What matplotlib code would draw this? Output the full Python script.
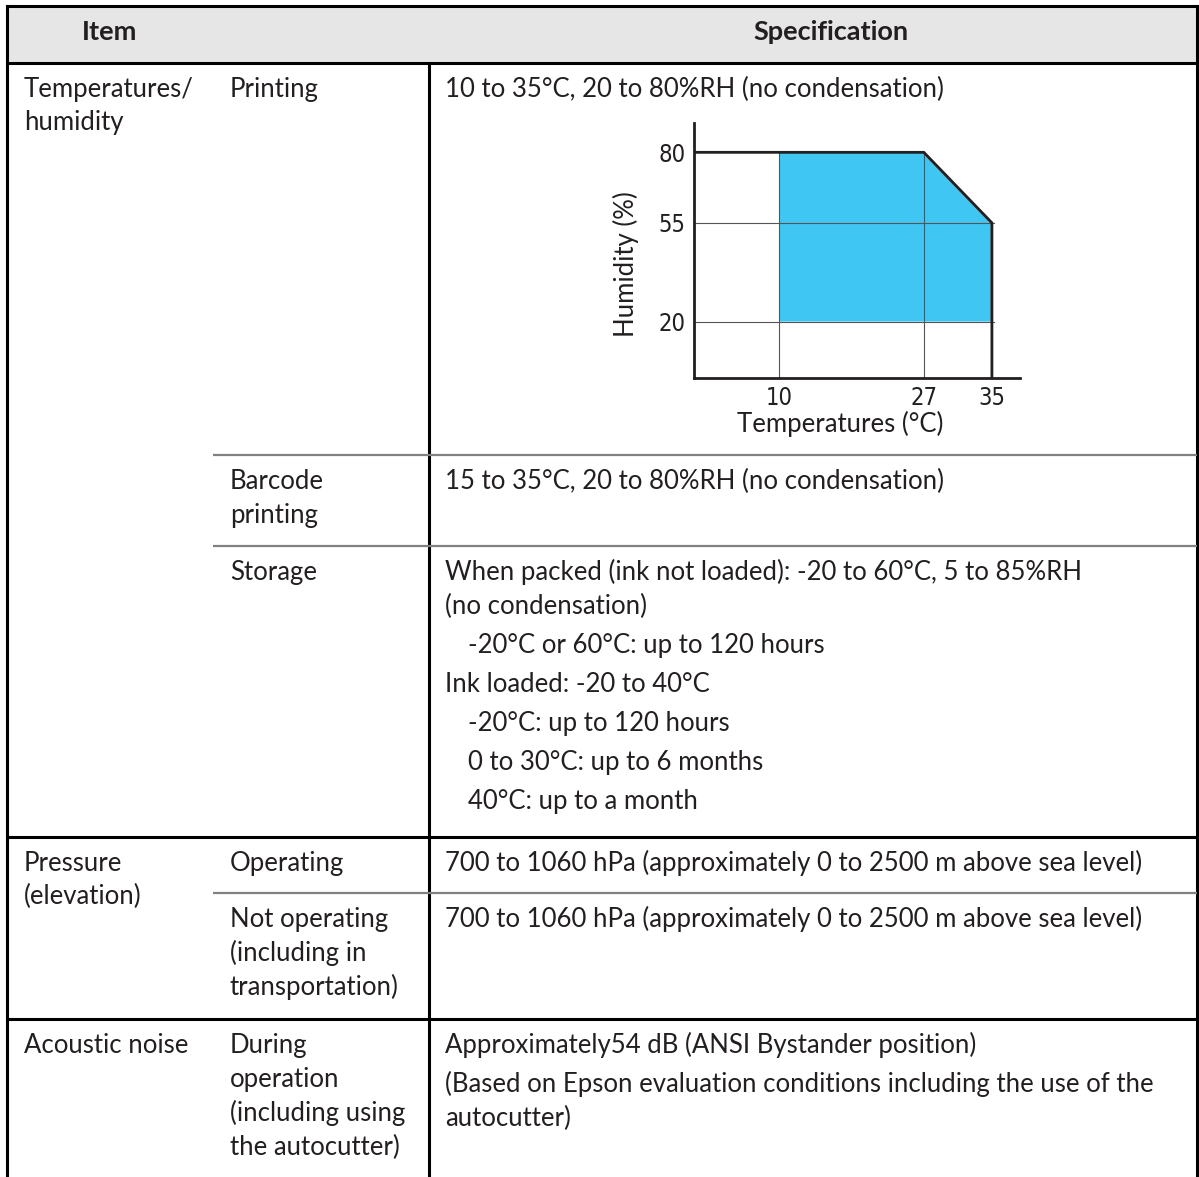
import matplotlib
matplotlib.use("Agg")
import matplotlib.pyplot as plt

# ---- table text -------------------------------------------------------
header_item = "Item"
header_spec = "Specification"

# (group label lines, [(sub label lines, spec paragraphs), ...])
# each spec paragraph: (indent level, [wrapped lines])
groups = [
    (["Temperatures/", "humidity"], [
        (["Printing"], [(0, ["10 to 35°C, 20 to 80%RH (no condensation)"])]),
        (["Barcode", "printing"], [(0, ["15 to 35°C, 20 to 80%RH (no condensation)"])]),
        (["Storage"], [
            (0, ["When packed (ink not loaded): -20 to 60°C, 5 to 85%RH",
                 "(no condensation)"]),
            (1, ["-20°C or 60°C: up to 120 hours"]),
            (0, ["Ink loaded: -20 to 40°C"]),
            (1, ["-20°C: up to 120 hours"]),
            (1, ["0 to 30°C: up to 6 months"]),
            (1, ["40°C: up to a month"]),
        ]),
    ]),
    (["Pressure", "(elevation)"], [
        (["Operating"], [(0, ["700 to 1060 hPa (approximately 0 to 2500 m above sea level)"])]),
        (["Not operating", "(including in", "transportation)"],
         [(0, ["700 to 1060 hPa (approximately 0 to 2500 m above sea level)"])]),
    ]),
    (["Acoustic noise"], [
        (["During", "operation", "(including using", "the autocutter)"], [
            (0, ["Approximately54 dB (ANSI Bystander position)"]),
            (0, ["(Based on Epson evaluation conditions including the use of the",
                 "autocutter)"]),
        ]),
    ]),
]

# ---- chart data -------------------------------------------------------
temp_ticks = [10, 27, 35]
hum_ticks = [20, 55, 80]
zone_temp = [10, 10, 27, 35, 35]
zone_hum = [20, 80, 80, 55, 20]
edge_temp = [0, 27, 35, 35]
edge_hum = [80, 80, 55, 0]

# ---- layout (pixels) --------------------------------------------------
W, H = 1199, 1177
x_left, x_sub, x_spec, x_right = 7, 213, 429, 1197
y_top, y_head = 6, 63
sub_row_tops = [63, 455, 546, 837, 893, 1019]
group_tops = [63, 837, 1019]
line_step, para_step = 34, 39
first_base = 34
ink = "#231f20"
body = dict(family=["Lato", "DejaVu Sans"], fontsize=18.5, color=ink, va="baseline")
bold = {**body, "fontweight": "bold", "fontsize": 19.5}

fig = plt.figure(figsize=(W / 100, H / 100), dpi=100)
ax = fig.add_axes([0, 0, 1, 1])
ax.set_xlim(0, W)
ax.set_ylim(H, 0)
ax.axis("off")

# header
ax.fill_between([x_left, x_right], y_top, y_head, color="#e6e6e6", lw=0)
ax.text((x_left + x_sub) / 2, 40, header_item, ha="center", **bold)
ax.text(831, 40, header_spec, ha="center", **bold)

# borders
blk = dict(color="black", lw=2.2, solid_capstyle="projecting")
gry = dict(color="#808080", lw=1.6, solid_capstyle="butt")
ax.plot([x_left, x_right], [y_top, y_top], **blk)
ax.plot([x_left, x_left], [y_top, H], **blk)
ax.plot([x_right, x_right], [y_top, H], **blk)
ax.plot([x_spec, x_spec], [y_head, H], **blk)
for y in group_tops:
    ax.plot([x_left, x_right], [y, y], **blk)
for y in sub_row_tops:
    if y not in group_tops:
        ax.plot([x_sub, x_right], [y, y], **gry)

# cells
k = 0
for gi, (glabel, subs) in enumerate(groups):
    for j, line in enumerate(glabel):
        ax.text(24, group_tops[gi] + first_base + j * 33, line, **body)
    for slabel, paras in subs:
        top = sub_row_tops[k]
        k += 1
        for j, line in enumerate(slabel):
            ax.text(230, top + first_base + j * line_step, line, **body)
        y = top + first_base
        for pi, (indent, lines) in enumerate(paras):
            if pi > 0:
                y += para_step - line_step
            for line in lines:
                ax.text(445 + 23 * indent, y, line, **body)
                y += line_step

# ---- embedded humidity chart -----------------------------------------
cx0, cx1, cy0, cy1 = 694, 1020, 123, 378
cax = fig.add_axes([cx0 / W, 1 - cy1 / H, (cx1 - cx0) / W, (cy1 - cy0) / H])
cax.set_xlim(0, 38.3)
cax.set_ylim(0, 90.4)
cax.fill(zone_temp, zone_hum, color="#40c6f2", lw=0, zorder=1)
for t in temp_ticks[:2]:
    cax.plot([t, t], [0, hum_ticks[-1]], color="#555555", lw=0.8, zorder=2)
for h in hum_ticks[:2]:
    cax.plot([0, temp_ticks[-1] + 0.3], [h, h], color="#555555", lw=0.8, zorder=2)
cax.plot(edge_temp, edge_hum, color="#231f20", lw=2.0, zorder=3,
         solid_joinstyle="miter")
for s in ["top", "right"]:
    cax.spines[s].set_visible(False)
for s in ["left", "bottom"]:
    cax.spines[s].set_linewidth(2.0)
    cax.spines[s].set_color("#231f20")
cax.set_xticks(temp_ticks)
cax.set_yticks(hum_ticks)
tick_font = dict(family=["Liberation Sans Narrow", "DejaVu Sans"], fontsize=17,
                 stretch="condensed")
cax.set_xticklabels([str(t) for t in temp_ticks], **tick_font, color=ink)
cax.set_yticklabels([str(h) for h in hum_ticks], **tick_font, color=ink)
cax.tick_params(length=0)
cax.tick_params(axis="y", pad=6)
cax.tick_params(axis="x", pad=6)
cax.set_xlabel("Temperatures (°C)", family=["Lato", "DejaVu Sans"], fontsize=18.5,
               color=ink)
cax.set_ylabel("Humidity (%)", family=["Lato", "DejaVu Sans"], fontsize=18.5,
               color=ink)
cax.xaxis.set_label_coords(0.448, -0.13)
cax.yaxis.set_label_coords(-0.17, 0.447)
cax.patch.set_visible(False)

fig.savefig("out.png", dpi=100)
